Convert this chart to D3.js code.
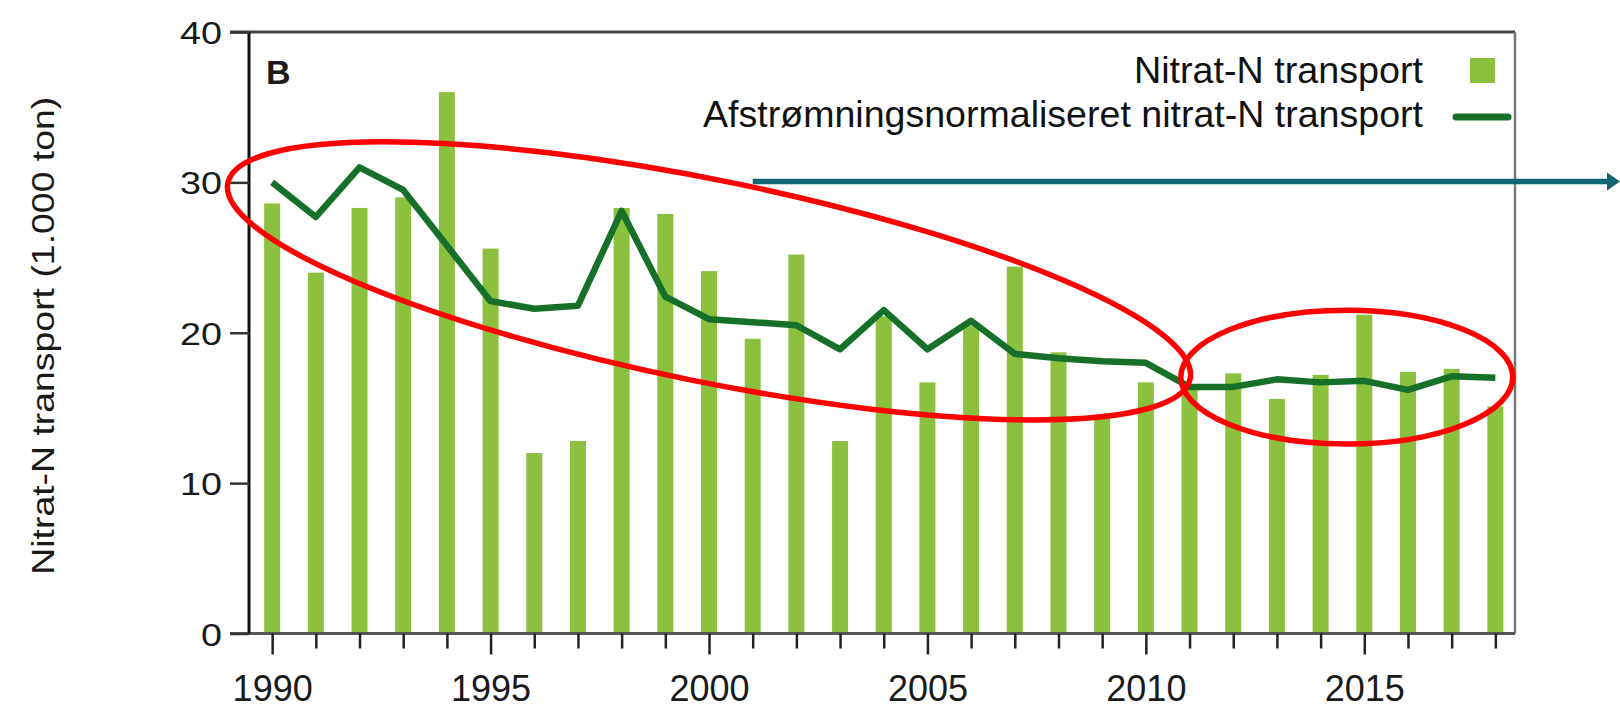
<!DOCTYPE html>
<html>
<head>
<meta charset="utf-8">
<script src="https://cdn.jsdelivr.net/npm/d3@7"></script>
<style>
  body { margin: 0; background: #fff; }
  svg { display: block; font-family: Arial, "Liberation Sans", Helvetica, sans-serif; }
</style>
</head>
<body>
<div class="bg"></div>
<script>
// data (1.000 ton)
const years = [1990, 1991, 1992, 1993, 1994, 1995, 1996, 1997, 1998, 1999,
               2000, 2001, 2002, 2003, 2004, 2005, 2006, 2007, 2008, 2009,
               2010, 2011, 2012, 2013, 2014, 2015, 2016, 2017, 2018];
const transport = [28.6, 24.0, 28.3, 29.0, 36.0, 25.6, 12.0, 12.8, 28.3, 27.9,
                   24.1, 19.6, 25.2, 12.8, 21.1, 16.7, 20.5, 24.4, 18.7, 14.5,
                   16.7, 16.3, 17.3, 15.6, 17.2, 21.2, 17.4, 17.6, 15.1];
const normalized = [30.0, 27.7, 31.0, 29.5, 25.8, 22.1, 21.6, 21.8, 28.1, 22.4,
                    20.9, 20.7, 20.5, 18.9, 21.5, 18.9, 20.8, 18.6, 18.3, 18.1,
                    18.0, 16.4, 16.4, 16.9, 16.7, 16.8, 16.2, 17.1, 17.0];
const yTicks = [0, 10, 20, 30, 40];
const legendLabels = ["Nitrat-N transport", "Afstrømningsnormaliseret nitrat-N transport"];
const yTitle = "Nitrat-N transport (1.000 ton)";
const panelLabel = "B";

// red ellipses drawn on top of the figure: centre in data units, radii in years / values
const ellipses = [
  { year: 2000.0, value: 23.45, rYears: 11.24, rValue: 6.7, angle: 11.5 },
  { year: 2014.6, value: 17.05, rYears: 3.8, rValue: 4.45, angle: 0 }
];
// teal arrow (starts in the plot, runs out to the page edge)
const arrowStart = { year: 2001.0, value: 30.05 };

const W = 1620, H = 710;
const plot = { left: 249, right: 1515, top: 32, bottom: 633.5 };

const barColor = "#8cc13f";
const lineColor = "#16702a";

const svg = d3.select(".bg").append("svg")
  .attr("width", W)
  .attr("height", H);

const xScale = d3.scaleLinear()
  .domain([1989.47, 2018.45])
  .range([plot.left, plot.right]);
const yScale = d3.scaleLinear()
  .domain([0, 40])
  .range([plot.bottom, plot.top]);

const barW = 16;

// bars
svg.append("g").selectAll("rect")
  .data(years)
  .enter().append("rect")
  .attr("x", (d, i) => xScale(d) - barW / 2)
  .attr("y", (d, i) => yScale(transport[i]))
  .attr("width", barW)
  .attr("height", (d, i) => yScale(0) - yScale(transport[i]))
  .attr("fill", barColor);

// normalised line
const line = d3.line()
  .x((d, i) => xScale(years[i]))
  .y(d => yScale(d));

svg.append("path")
  .datum(normalized)
  .attr("d", line)
  .attr("fill", "none")
  .attr("stroke", lineColor)
  .attr("stroke-width", 6.5)
  .attr("stroke-linejoin", "round");

// frame (top and right are grey, left axis black)
svg.append("line")
  .attr("x1", plot.left - 19).attr("x2", plot.right)
  .attr("y1", yScale(40)).attr("y2", yScale(40))
  .attr("stroke", "#444").attr("stroke-width", 3);
svg.append("line")
  .attr("x1", plot.right).attr("x2", plot.right)
  .attr("y1", yScale(40)).attr("y2", yScale(0))
  .attr("stroke", "#777").attr("stroke-width", 2.5);
svg.append("line")
  .attr("x1", plot.left - 19).attr("x2", plot.right)
  .attr("y1", yScale(0)).attr("y2", yScale(0))
  .attr("stroke", "#555").attr("stroke-width", 3);
svg.append("line")
  .attr("x1", plot.left).attr("x2", plot.left)
  .attr("y1", yScale(40)).attr("y2", yScale(0))
  .attr("stroke", "#111").attr("stroke-width", 3);

// y axis
const yAxis = d3.axisLeft(yScale).tickValues(yTicks).tickSize(19).tickPadding(0);
const gy = svg.append("g")
  .attr("transform", "translate(" + plot.left + ",0)")
  .call(yAxis);
gy.select(".domain").remove();
gy.selectAll(".tick line").attr("stroke", "#333").attr("stroke-width", 2.5);
gy.selectAll(".tick text")
  .attr("font-size", 32)
  .attr("fill", "#1a1a1a")
  .attr("x", -27 / 1.18)
  .attr("dy", "0.36em")
  .attr("transform", "scale(1.18,1)");

// x axis, labels only every fifth year
const xAxis = d3.axisBottom(xScale)
  .tickValues(years)
  .tickSize(15)
  .tickFormat(d => d % 5 === 0 ? d : "");
const gx = svg.append("g")
  .attr("transform", "translate(0," + plot.bottom + ")")
  .call(xAxis);
gx.select(".domain").remove();
gx.selectAll(".tick line")
  .attr("stroke", "#222")
  .attr("stroke-width", 2.5)
  .attr("y2", d => d % 5 === 0 ? 21 : 15);
gx.selectAll(".tick text")
  .attr("font-size", 36)
  .attr("fill", "#1a1a1a")
  .attr("y", 67)
  .attr("dy", 0);

// y title
svg.append("text")
  .attr("transform", "translate(54," + ((plot.top + plot.bottom) / 2 + 3) + ") rotate(-90)")
  .attr("text-anchor", "middle")
  .attr("font-size", 32)
  .attr("fill", "#1a1a1a")
  .attr("textLength", 478)
  .attr("lengthAdjust", "spacingAndGlyphs")
  .text(yTitle);

// panel label
svg.append("text")
  .attr("x", 266).attr("y", 84)
  .attr("font-size", 34)
  .attr("font-weight", "bold")
  .attr("fill", "#1a1a1a")
  .text(panelLabel);

// legend
const legendRight = 1423;
const legendRows = [
  { label: legendLabels[0], base: 83, len: 289 },
  { label: legendLabels[1], base: 127, len: 720 }
];
svg.selectAll(".legend-text")
  .data(legendRows)
  .enter().append("text")
  .attr("class", "legend-text")
  .attr("x", d => legendRight - d.len)
  .attr("y", d => d.base)
  .attr("font-size", 36)
  .attr("fill", "#111")
  .attr("textLength", d => d.len)
  .attr("lengthAdjust", "spacingAndGlyphs")
  .text(d => d.label);
svg.append("rect")
  .attr("x", 1470).attr("y", 58)
  .attr("width", 25).attr("height", 25)
  .attr("fill", barColor);
svg.append("line")
  .attr("x1", 1456).attr("x2", 1508)
  .attr("y1", 117).attr("y2", 117)
  .attr("stroke", lineColor)
  .attr("stroke-width", 7)
  .attr("stroke-linecap", "round");

// annotations
const pxPerYear = xScale(1) - xScale(0);
const pxPerUnit = yScale(0) - yScale(1);
svg.append("g").selectAll("ellipse")
  .data(ellipses)
  .enter().append("ellipse")
  .attr("transform", d => "translate(" + xScale(d.year) + "," + yScale(d.value) + ") rotate(" + d.angle + ")")
  .attr("rx", d => d.rYears * pxPerYear)
  .attr("ry", d => d.rValue * pxPerUnit)
  .attr("fill", "none")
  .attr("stroke", "#ff0000")
  .attr("stroke-width", 5.5);

const ay = yScale(arrowStart.value);
svg.append("line")
  .attr("x1", xScale(arrowStart.year)).attr("x2", W - 10)
  .attr("y1", ay).attr("y2", ay)
  .attr("stroke", "#0d6670")
  .attr("stroke-width", 5.5);
svg.append("path")
  .attr("d", "M" + (W - 13) + "," + (ay - 9) + "L" + W + "," + ay + "L" + (W - 13) + "," + (ay + 9) + "Z")
  .attr("fill", "#0d6670");
</script>
</body>
</html>
